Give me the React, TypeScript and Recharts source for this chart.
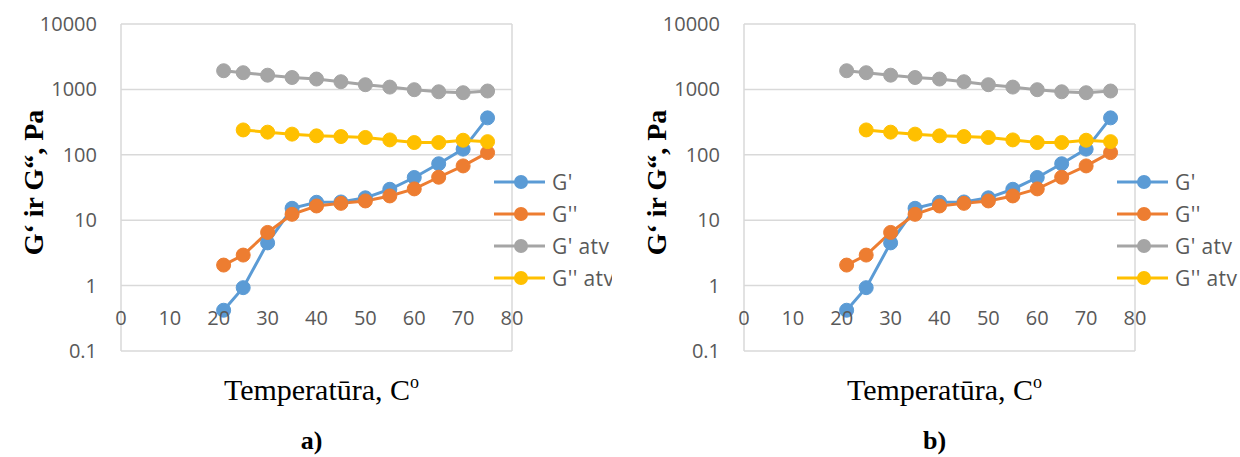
import React from 'react';
import { LineChart, Line, XAxis, YAxis, CartesianGrid, ReferenceLine, Legend, Label } from 'recharts';

const temps = [21, 25, 30, 35, 40, 45, 50, 55, 60, 65, 70, 75];
const gPrime = [0.42, 0.93, 4.5, 15.2, 18.8, 19, 22, 29.7, 45, 73, 122, 367];
const gDouble = [2.06, 2.93, 6.5, 12.3, 16.5, 18.1, 19.7, 23.5, 30.1, 45.4, 67.6, 108];
const gPrimeAtv = [1930, 1800, 1650, 1520, 1440, 1310, 1180, 1085, 990, 920, 890, 945];
const gDoubleAtv: (number | null)[] = [null, 240, 222, 207, 195, 190, 184, 169, 154, 154, 167, 159];

const xTicks = [0, 10, 20, 30, 40, 50, 60, 70, 80];
const yTicks = [0.1, 1, 10, 100, 1000, 10000];
const seriesKeys = ['g1', 'g2', 'g3', 'g4'];
const seriesNames = ["G'", "G''", "G' atv", "G'' atv"];
const seriesColors = ['#5B9BD5', '#ED7D31', '#A5A5A5', '#FFC000'];
const panelLabels = ['a)', 'b)'];

const data = temps.map((t, i) => ({
  t,
  g1: gPrime[i],
  g2: gDouble[i],
  g3: gPrimeAtv[i],
  g4: gDoubleAtv[i],
}));

const TICK_FONT = "'Open Sans', sans-serif";
const TICK_COLOR = '#595959';
const GRID = '#d9d9d9';
const SERIF = "'Liberation Serif', 'Times New Roman', serif";

const XTick = (props: any) => {
  const { x, y, payload } = props;
  return (
    <text x={x} y={y} dy={-26} textAnchor="middle" fill={TICK_COLOR} fontSize={20} fontFamily={TICK_FONT}>
      {payload.value}
    </text>
  );
};

const YTick = (props: any) => {
  const { x, y, payload } = props;
  return (
    <text x={x} y={y} dy="0.35em" textAnchor="end" fill={TICK_COLOR} fontSize={20} fontFamily={TICK_FONT}>
      {String(payload.value)}
    </text>
  );
};

const LegendContent = (props: any) => {
  const raw = props.payload && props.payload.length ? [...props.payload] : seriesNames.map((n, i) => ({ value: n, color: seriesColors[i] }));
  const payload = raw.sort((a: any, b: any) => seriesNames.indexOf(a.value) - seriesNames.indexOf(b.value));
  return (
    <div style={{ width: 0, height: 0, overflow: 'visible' }}>
      {payload.map((e: any, i: number) => (
        <div key={i} style={{ display: 'flex', alignItems: 'center', height: 32, whiteSpace: 'nowrap' }}>
          <svg width={58} height={32} style={{ flex: 'none' }}>
            <line x1={0} y1={16} x2={51} y2={16} stroke={e.color} strokeWidth={3} />
            <circle cx={27} cy={16} r={7} fill={e.color} />
          </svg>
          <span style={{ fontFamily: TICK_FONT, fontSize: 21, letterSpacing: 0.4, color: TICK_COLOR, lineHeight: '32px' }}>{e.value}</span>
        </div>
      ))}
    </div>
  );
};

const Panel = ({ width, label }: { width: number; label: string }) => (
  <LineChart width={width} height={457} data={data} margin={{ top: 24, right: width - 512, bottom: 0, left: 0 }}>
    <CartesianGrid vertical={false} stroke={GRID} strokeWidth={1.5} />
    <XAxis
      type="number"
      dataKey="t"
      domain={[0, 80]}
      ticks={xTicks}
      axisLine={false}
      tickLine={false}
      tickSize={0}
      tickMargin={0}
      height={106}
      tick={<XTick />}
      interval={0}
    >
      <Label
        content={(p: any) => {
          const vb = p.viewBox || { x: 121, y: 351, width: 391 };
          const cx = vb.x + vb.width / 2 + 5;
          return (
            <g>
              <text x={cx} y={vb.y + 49} textAnchor="middle" fontFamily={SERIF} fontSize={30} fill="#000">
                Temperatūra, C<tspan fontSize={18} dy={-12}>o</tspan>
              </text>
              <text x={cx - 10} y={vb.y + 98} textAnchor="middle" fontFamily={SERIF} fontWeight="bold" fontSize={26} fill="#000">
                {label}
              </text>
            </g>
          );
        }}
      />
    </XAxis>
    <YAxis
      scale="log"
      domain={[0.1, 10000]}
      ticks={yTicks}
      allowDataOverflow
      width={121}
      axisLine={{ stroke: GRID, strokeWidth: 1.5 }}
      tickLine={false}
      tickSize={0}
      tickMargin={24}
      tick={<YTick />}
      interval={0}
    >
      <Label
        content={(p: any) => {
          const vb = p.viewBox || { x: 0, y: 24, width: 121, height: 327 };
          const cx = 33;
          const cy = vb.y + vb.height / 2 - 5;
          return (
            <text
              x={cx}
              y={cy}
              transform={`rotate(-90 ${cx} ${cy})`}
              textAnchor="middle"
              dominantBaseline="central"
              fontFamily={SERIF}
              fontWeight="bold"
              fontSize={28}
              fill="#000"
            >
              G‘ ir G“, Pa
            </text>
          );
        }}
      />
    </YAxis>
    <ReferenceLine x={80} stroke={GRID} strokeWidth={1.5} />
    <Legend
      layout="horizontal"
      verticalAlign="middle"
      align="right"
      wrapperStyle={{ position: 'absolute', left: 494, top: 166, width: 0, height: 0, overflow: 'visible' }}
      content={<LegendContent />}
    />
    {seriesKeys.map((k, i) => (
      <Line
        key={k}
        type="linear"
        dataKey={k}
        name={seriesNames[i]}
        stroke={seriesColors[i]}
        strokeWidth={3}
        dot={{ r: 7, fill: seriesColors[i], stroke: seriesColors[i], strokeWidth: 1 }}
        activeDot={false}
        isAnimationActive={false}
        connectNulls={false}
      />
    ))}
  </LineChart>
);

export default function App() {
  return (
    <div style={{ position: 'absolute', left: 0, top: 0, width: 1240, height: 457, background: '#fff', overflow: 'hidden' }}>
      <div style={{ position: 'absolute', left: 0, top: 0, width: 612, height: 457, overflow: 'hidden' }}>
        <Panel width={612} label={panelLabels[0]} />
      </div>
      <div style={{ position: 'absolute', left: 623, top: 0, width: 617, height: 457, overflow: 'hidden' }}>
        <Panel width={617} label={panelLabels[1]} />
      </div>
    </div>
  );
}
